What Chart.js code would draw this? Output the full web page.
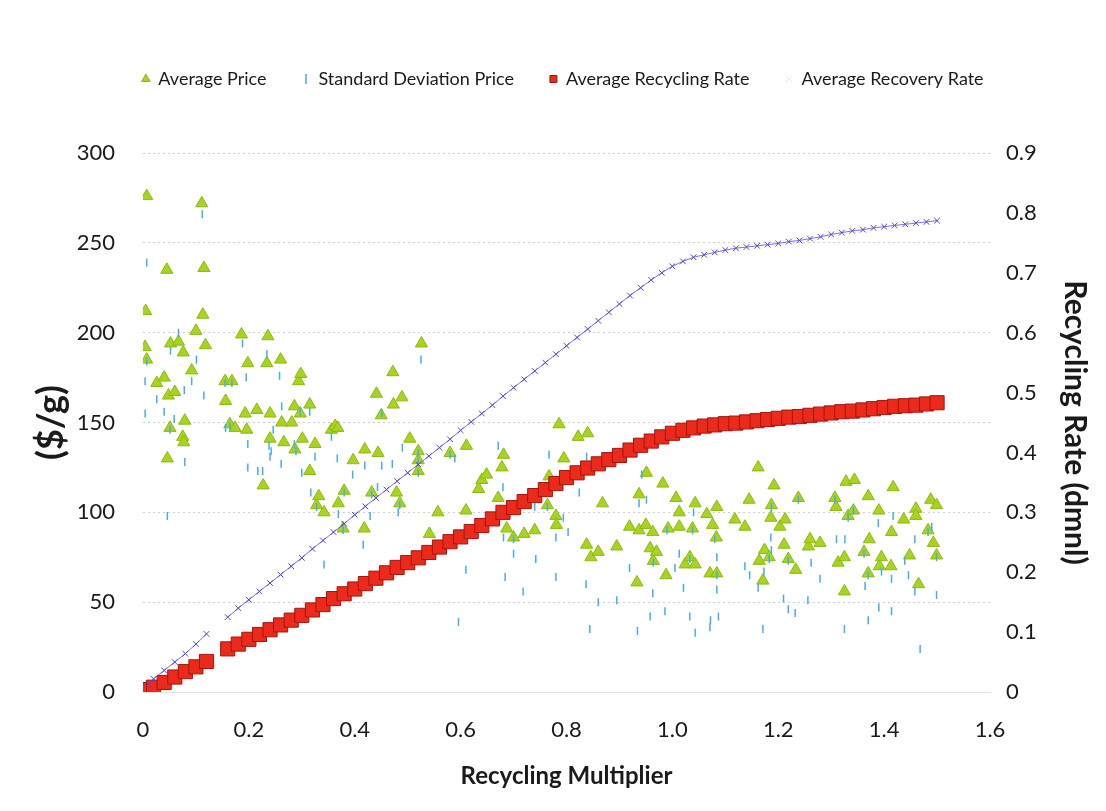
<!DOCTYPE html>
<html>
<head>
<meta charset="utf-8">
<script src="https://cdn.jsdelivr.net/npm/chart.js@4.4.1/dist/chart.umd.min.js"></script>
<style>
  html, body { margin: 0; padding: 0; background: #fff; }
  canvas { display: block; }
</style>
</head>
<body>
<canvas id="chart" width="1106" height="811"></canvas>
<script>
// Average Price ($/g) vs Recycling Multiplier
const avgPriceX = [0.005, 0.004, 0.007, 0.007, 0.026, 0.040, 0.045, 0.046, 0.048, 0.051, 0.052, 0.060, 0.067, 0.075, 0.076, 0.077, 0.079, 0.092, 0.100, 0.111,
  0.113, 0.115, 0.118, 0.155, 0.156, 0.164, 0.168, 0.174, 0.186, 0.193, 0.196, 0.198, 0.215, 0.227, 0.234, 0.236, 0.240, 0.240, 0.260, 0.262,
  0.266, 0.281, 0.286, 0.287, 0.294, 0.297, 0.298, 0.301, 0.315, 0.315, 0.325, 0.328, 0.332, 0.342, 0.356, 0.363, 0.368, 0.369, 0.378, 0.380,
  0.397, 0.418, 0.419, 0.432, 0.441, 0.444, 0.450, 0.472, 0.473, 0.479, 0.485, 0.489, 0.504, 0.520, 0.520, 0.520, 0.526, 0.541, 0.557, 0.580,
  0.610, 0.611, 0.634, 0.640, 0.649, 0.671, 0.678, 0.681, 0.687, 0.700, 0.720, 0.740, 0.764, 0.767, 0.780, 0.781, 0.786, 0.795, 0.822, 0.838,
  0.840, 0.846, 0.860, 0.868, 0.895, 0.919, 0.933, 0.937, 0.937, 0.950, 0.951, 0.958, 0.963, 0.964, 0.970, 0.982, 0.988, 0.992, 1.007, 1.013,
  1.013, 1.024, 1.033, 1.038, 1.043, 1.043, 1.065, 1.071, 1.076, 1.083, 1.084, 1.084, 1.118, 1.137, 1.145, 1.162, 1.164, 1.171, 1.174, 1.183,
  1.186, 1.187, 1.192, 1.203, 1.211, 1.213, 1.219, 1.233, 1.238, 1.257, 1.260, 1.279, 1.307, 1.309, 1.313, 1.325, 1.325, 1.328, 1.332, 1.342,
  1.344, 1.362, 1.370, 1.370, 1.372, 1.390, 1.391, 1.395, 1.413, 1.414, 1.417, 1.437, 1.448, 1.460, 1.460, 1.465, 1.483, 1.488, 1.493, 1.499, 1.499];
const avgPriceY = [212, 192, 276, 185, 172, 175, 235, 130, 165, 147, 194, 167, 195, 142, 189, 139, 151, 179, 201, 272,
  210, 236, 193, 173, 162, 149, 173, 147, 199, 155, 146, 183, 157, 115, 183, 198, 155, 141, 185, 150,
  139, 150, 159, 135, 173, 155, 177, 141, 160, 123, 138, 104, 109, 100, 146, 148, 147, 105, 91, 112,
  129, 91, 135, 111, 166, 133, 154, 178, 160, 111, 105, 164, 141, 134, 129, 123, 194, 88, 100, 133,
  101, 137, 113, 118, 121, 108, 125, 132, 91, 86, 88, 90, 104, 120, 98, 93, 149, 130, 142, 82,
  144, 75, 78, 105, 81, 92, 61, 110, 90, 93, 122, 80, 89, 73, 78, 116, 65, 91, 108, 100,
  92, 71, 75, 91, 105, 71, 99, 66, 93, 86, 103, 66, 96, 92, 107, 125, 73, 62, 79, 75,
  97, 104, 115, 92, 82, 96, 74, 68, 108, 81, 85, 83, 108, 103, 72, 75, 56, 117, 98, 101,
  118, 78, 109, 66, 85, 101, 70, 75, 70, 89, 114, 96, 76, 102, 98, 60, 90, 107, 83, 104, 76];

// Standard Deviation Price ($/g)
const sdPriceX = [0.004, 0.004, 0.007, 0.007, 0.026, 0.040, 0.046, 0.051, 0.052, 0.059, 0.067, 0.078, 0.079, 0.092, 0.101, 0.112, 0.115, 0.155, 0.156, 0.164,
  0.168, 0.188, 0.195, 0.198, 0.198, 0.217, 0.226, 0.234, 0.238, 0.240, 0.242, 0.246, 0.258, 0.261, 0.262, 0.286, 0.289, 0.297, 0.300, 0.315,
  0.317, 0.325, 0.328, 0.342, 0.356, 0.367, 0.369, 0.378, 0.380, 0.396, 0.416, 0.419, 0.429, 0.432, 0.443, 0.451, 0.451, 0.471, 0.482, 0.485,
  0.490, 0.520, 0.520, 0.520, 0.525, 0.580, 0.589, 0.596, 0.610, 0.671, 0.680, 0.681, 0.684, 0.700, 0.700, 0.718, 0.740, 0.742, 0.764, 0.767,
  0.780, 0.780, 0.794, 0.803, 0.824, 0.837, 0.838, 0.844, 0.860, 0.895, 0.919, 0.934, 0.937, 0.942, 0.951, 0.958, 0.963, 0.964, 0.990, 0.986,
  1.005, 1.013, 1.021, 1.033, 1.033, 1.038, 1.040, 1.043, 1.071, 1.072, 1.080, 1.084, 1.084, 1.084, 1.087, 1.137, 1.146, 1.162, 1.171, 1.173,
  1.183, 1.186, 1.187, 1.187, 1.210, 1.219, 1.219, 1.232, 1.238, 1.256, 1.262, 1.279, 1.307, 1.310, 1.325, 1.326, 1.332, 1.342, 1.362, 1.364,
  1.370, 1.370, 1.389, 1.390, 1.395, 1.414, 1.414, 1.417, 1.439, 1.446, 1.458, 1.458, 1.468, 1.483, 1.490, 1.499, 1.499];
const sdPriceY = [173, 155, 239, 184, 163, 156, 98, 146, 190, 152, 200, 168, 128, 173, 185, 266, 165, 172, 147, 148,
  172, 194, 175, 138, 125, 123, 123, 188, 137, 131, 134, 146, 176, 127, 159, 138, 134, 156, 122, 156,
  111, 131, 103, 71, 142, 130, 99, 90, 111, 121, 82, 126, 98, 110, 114, 155, 126, 127, 100, 104,
  136, 133, 128, 122, 185, 132, 130, 39, 68, 137, 114, 86, 64, 77, 85, 56, 103, 74, 103, 132,
  86, 64, 97, 89, 111, 60, 131, 35, 50, 51, 69, 34, 105, 121, 107, 42, 55, 72, 90, 45,
  69, 77, 58, 74, 42, 90, 100, 33, 36, 40, 85, 75, 65, 57, 42, 70, 65, 58, 35, 67,
  74, 86, 79, 103, 52, 73, 46, 44, 107, 51, 72, 63, 107, 85, 35, 85, 97, 101, 77, 59,
  65, 40, 94, 47, 67, 63, 45, 98, 73, 65, 85, 56, 24, 89, 92, 75, 54];

// Recycling multiplier grid for the rate series
const rateX = [0.01, 0.02, 0.04, 0.06, 0.08, 0.10, 0.12,
  0.16, 0.18, 0.20, 0.22, 0.24, 0.26, 0.28, 0.30, 0.32, 0.34, 0.36, 0.38, 0.40, 0.42, 0.44, 0.46, 0.48, 0.50,
  0.52, 0.54, 0.56, 0.58, 0.60, 0.62, 0.64, 0.66, 0.68, 0.70, 0.72, 0.74, 0.76, 0.78, 0.80, 0.82, 0.84, 0.86,
  0.88, 0.90, 0.92, 0.94, 0.96, 0.98, 1.00, 1.02, 1.04, 1.06, 1.08, 1.10, 1.12, 1.14, 1.16, 1.18, 1.20, 1.22,
  1.24, 1.26, 1.28, 1.30, 1.32, 1.34, 1.36, 1.38, 1.40, 1.42, 1.44, 1.46, 1.48, 1.50];
// Average Recycling Rate (dmnl)
const recyclingRate = [0.004, 0.008, 0.016, 0.025, 0.034, 0.042, 0.051,
  0.072, 0.080, 0.088, 0.096, 0.104, 0.112, 0.120, 0.128, 0.137, 0.146, 0.156, 0.164, 0.172, 0.181, 0.190, 0.199, 0.208, 0.216,
  0.224, 0.233, 0.242, 0.251, 0.259, 0.268, 0.278, 0.289, 0.300, 0.308, 0.318, 0.328, 0.338, 0.348, 0.358, 0.366, 0.374, 0.381,
  0.388, 0.395, 0.404, 0.412, 0.419, 0.426, 0.432, 0.437, 0.441, 0.444, 0.446, 0.448, 0.449, 0.451, 0.453, 0.455, 0.457, 0.459,
  0.460, 0.462, 0.464, 0.466, 0.468, 0.469, 0.471, 0.473, 0.475, 0.477, 0.478, 0.479, 0.481, 0.483];
// Average Recovery Rate (dmnl)
const recoveryRate = [0.014, 0.022, 0.036, 0.050, 0.064, 0.080, 0.097,
  0.125, 0.140, 0.154, 0.168, 0.182, 0.196, 0.210, 0.224, 0.239, 0.253, 0.267, 0.281, 0.296, 0.310, 0.324, 0.338, 0.352, 0.366,
  0.380, 0.394, 0.408, 0.422, 0.437, 0.451, 0.465, 0.479, 0.494, 0.508, 0.522, 0.536, 0.550, 0.564, 0.578, 0.592, 0.606, 0.620,
  0.634, 0.648, 0.662, 0.675, 0.688, 0.700, 0.711, 0.719, 0.726, 0.730, 0.734, 0.738, 0.741, 0.743, 0.745, 0.747, 0.749, 0.752,
  0.754, 0.757, 0.760, 0.764, 0.767, 0.770, 0.772, 0.775, 0.777, 0.779, 0.781, 0.783, 0.785, 0.787];

const pairs = (xs, ys) => xs.map((x, i) => ({ x: x, y: ys[i] }));

const FONT = 'Lato, "Open Sans", sans-serif';
const TEXT = '#1a1a1a';

// give the legend a fixed block height so the plot starts lower
const legendSpacing = {
  id: 'legendSpacing',
  beforeInit(chart) {
    const fit = chart.legend.fit;
    chart.legend.fit = function () {
      fit.call(this);
      this.height = 119;
    };
  }
};

new Chart(document.getElementById('chart'), {
  type: 'scatter',
  plugins: [legendSpacing],
  data: {
    datasets: [
      {
        label: 'Average Price',
        data: pairs(avgPriceX, avgPriceY),
        yAxisID: 'y',
        pointStyle: 'triangle',
        pointRadius: 7,
        backgroundColor: '#a8d31e',
        borderColor: '#8cba14',
        borderWidth: 1,
        order: 3
      },
      {
        label: 'Standard Deviation Price',
        data: pairs(sdPriceX, sdPriceY),
        yAxisID: 'y',
        pointStyle: 'line',
        rotation: 90,
        pointRadius: 4,
        backgroundColor: '#45aee6',
        borderColor: '#45aee6',
        borderWidth: 1.5,
        order: 2
      },
      {
        label: 'Average Recycling Rate',
        data: pairs(rateX, recyclingRate),
        yAxisID: 'y1',
        pointStyle: 'rect',
        pointRadius: 10,
        backgroundColor: '#ec2a1c',
        borderColor: '#a3160e',
        borderWidth: 1,
        order: 1
      },
      {
        label: 'Average Recovery Rate',
        data: pairs(rateX, recoveryRate),
        yAxisID: 'y1',
        showLine: true,
        borderWidth: 1,
        borderColor: 'rgba(79,68,214,0.75)',
        segment: {
          borderColor: ctx => (ctx.p1.parsed.x - ctx.p0.parsed.x > 0.03 ? 'rgba(0,0,0,0)' : undefined)
        },
        pointStyle: 'crossRot',
        pointRadius: 4,
        pointBorderWidth: 1,
        pointBackgroundColor: '#4f44d6',
        pointBorderColor: '#4f44d6',
        order: 0
      }
    ]
  },
  options: {
    responsive: false,
    animation: false,
    devicePixelRatio: 1,
    layout: { padding: { top: 34, left: 30, right: 10, bottom: 20 } },
    plugins: {
      tooltip: { enabled: false },
      legend: {
        position: 'top',
        labels: {
          usePointStyle: true,
          boxWidth: 7,
          boxHeight: 7,
          padding: 36,
          color: TEXT,
          font: { family: FONT, size: 18 },
          sort: (a, b) => a.datasetIndex - b.datasetIndex,
          generateLabels: (chart) => {
            const items = Chart.defaults.plugins.legend.labels.generateLabels(chart);
            items.forEach(it => {
              if (it.datasetIndex === 3) it.strokeStyle = 'rgba(79,68,214,0.12)';
            });
            return items;
          }
        }
      }
    },
    scales: {
      x: {
        type: 'linear',
        min: 0,
        max: 1.6,
        afterFit: (scale) => { scale.height = 99; },
        ticks: { stepSize: 0.2, padding: 25, color: TEXT, font: { family: FONT, size: 22 } },
        grid: { display: false, drawTicks: false },
        border: { color: '#e2e2e2' },
        title: {
          display: true,
          text: 'Recycling Multiplier',
          color: TEXT,
          font: { family: FONT, size: 24, weight: 'bold' },
          padding: { top: 0, bottom: 0 }
        }
      },
      y: {
        position: 'left',
        min: 0,
        max: 300,
        afterFit: (scale) => { scale.width = 113; },
        ticks: { stepSize: 50, padding: 28, color: TEXT, font: { family: FONT, size: 22 } },
        grid: { color: '#cdcdcd', drawTicks: false },
        border: { display: false, dash: [2, 3] },
        title: {
          display: true,
          text: '($/g)',
          color: TEXT,
          font: { family: FONT, size: 36, weight: 'bold' },
          padding: { top: 0, bottom: 0 }
        }
      },
      y1: {
        position: 'right',
        min: 0,
        max: 0.9,
        afterFit: (scale) => { scale.width = 106; },
        ticks: { stepSize: 0.1, padding: 16, color: TEXT, font: { family: FONT, size: 22 } },
        grid: { display: false, drawTicks: false },
        border: { display: false },
        title: {
          display: true,
          text: 'Recycling Rate (dmnl)',
          color: TEXT,
          font: { family: FONT, size: 30, weight: 'bold' },
          padding: { top: 3, bottom: 0 }
        }
      }
    }
  }
});
</script>
</body>
</html>
